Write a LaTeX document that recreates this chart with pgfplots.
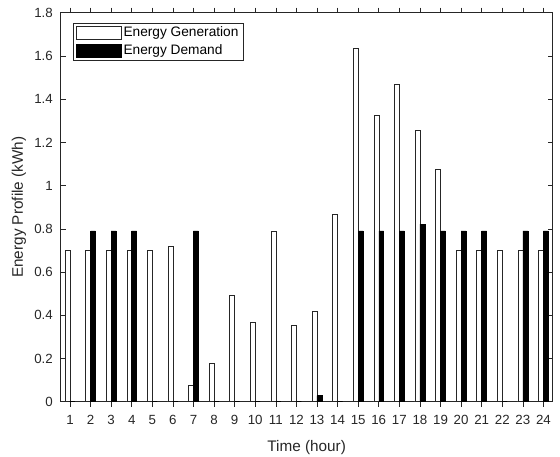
\documentclass[border=0pt]{standalone}
\usepackage{fontspec}
\setmainfont{Liberation Sans}
\usepackage{pgfplots}
\pgfplotsset{compat=1.18}
\definecolor{axgray}{HTML}{262626}
\begin{document}
\begin{tikzpicture}[x=1pt,y=1pt]
\useasboundingbox (-60.7pt,-55.3pt) rectangle (499.3pt,401.7pt);
\begin{axis}[
  at={(0pt,0pt)}, anchor=south west,
  scale only axis, width=492pt, height=389pt,
  xmin=0.55, xmax=24.45, ymin=0, ymax=1.8,
  xtick={1,...,24}, ytick={0,0.2,...,1.8},
  yticklabels={0,0.2,0.4,0.6,0.8,1,1.2,1.4,1.6,1.8},
  tick align=inside, major tick length=5pt,
  axis line style={axgray, line width=0.6pt},
  tick style={axgray, line width=0.6pt},
  /pgf/number format/assume math mode=true,
  ticklabel style={font=\fontsize{13.3}{15}\selectfont, text=axgray},
  xticklabel style={anchor=center, yshift=-13.3pt},
  yticklabel style={anchor=east, inner sep=0pt, xshift=-7.7pt},
  label style={font=\fontsize{15.3}{17}\selectfont, text=axgray},
  xlabel={Time (hour)}, ylabel={Energy Profile (kWh)},
  xlabel style={at={(axis description cs:0.5,0)}, anchor=center, yshift=-46pt},
  ylabel style={at={(axis description cs:0,0.5)}, anchor=center, yshift=41.7pt},
  ybar, bar width=0.24,
  legend cell align=left,
  legend style={at={(0.0244,0.9743)}, anchor=north west, draw=axgray,
    line width=0.6pt, font=\fontsize{13.7}{15}\selectfont, text=black,
    row sep=2.5pt, inner xsep=3pt, inner ysep=2pt},
  legend image code/.code={\draw[#1, line width=0.5pt] (0pt,-6.5pt) rectangle (45pt,6.5pt);},
]
\addplot+[bar shift=-0.12, fill=white, draw=black!85, line width=0.5pt] coordinates {
(1,0.70) (2,0.70) (3,0.70) (4,0.70) (5,0.70) (6,0.72) (7,0.077) (8,0.177)
(9,0.493) (10,0.367) (11,0.789) (12,0.355) (13,0.419) (14,0.869) (15,1.634)
(16,1.324) (17,1.47) (18,1.255) (19,1.074) (20,0.70) (21,0.70) (22,0.70)
(23,0.70) (24,0.70)};
\addlegendentry{Energy Generation}
\addplot+[bar shift=0.12, fill=black, draw=black, line width=0.5pt] coordinates {
(1,0) (2,0.79) (3,0.79) (4,0.79) (5,0) (6,0) (7,0.79) (8,0)
(9,0) (10,0) (11,0) (12,0) (13,0.028) (14,0) (15,0.79)
(16,0.79) (17,0.79) (18,0.822) (19,0.79) (20,0.79) (21,0.79) (22,0)
(23,0.79) (24,0.79)};
\addlegendentry{Energy Demand}
\end{axis}
\end{tikzpicture}
\end{document}
